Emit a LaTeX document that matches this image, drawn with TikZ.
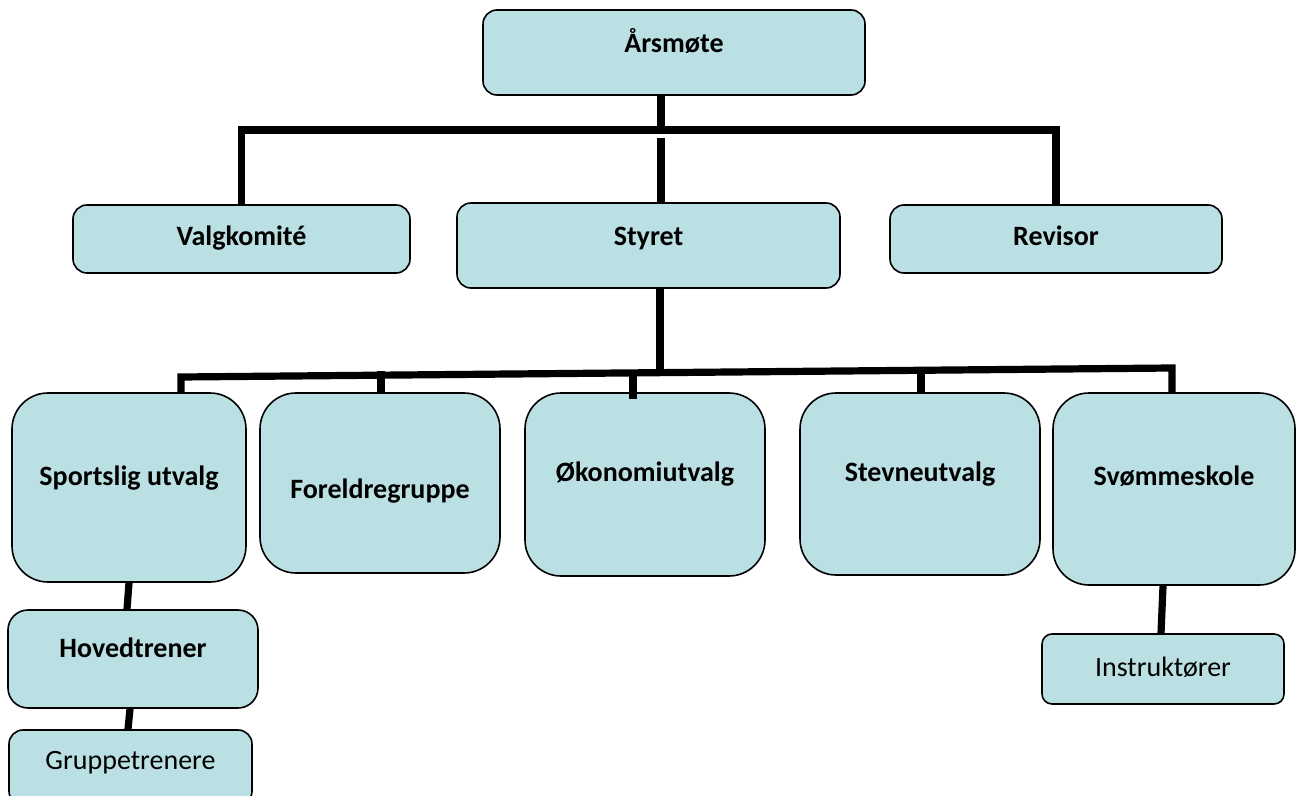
\documentclass[tikz,border=0pt]{standalone}
\usepackage{fontspec}
\setmainfont{Carlito}
\definecolor{boxfill}{RGB}{187,224,227}
\tikzset{
  orgbox/.style={draw=black, line width=0.8pt, fill=boxfill, rounded corners=7pt,
    inner sep=0pt, anchor=base, font=\fontsize{14}{17}\selectfont\bfseries},
  bigbox/.style={orgbox, rounded corners=18pt},
  thinbox/.style={orgbox, font=\fontsize{14}{17}\selectfont},
  conn/.style={line width=3.6pt}
}
\begin{document}
\begin{tikzpicture}[x=0.5pt,y=-0.5pt]
\useasboundingbox (0,0) rectangle (1304,796);
\node[orgbox, minimum width=191pt, text height=21.5pt, text depth=21pt] (arsmote) at (674,53) {Årsmøte};
\node[orgbox, minimum width=168.5pt, text height=20.5pt, text depth=13.5pt] (valg) at (241.5,246) {Valgkomité};
\node[orgbox, minimum width=191.5pt, text height=21.5pt, text depth=21pt] (styret) at (648.5,246) {Styret};
\node[orgbox, minimum width=166pt, text height=20.5pt, text depth=13.5pt] (revisor) at (1056,246) {Revisor};
\node[bigbox, minimum width=117pt, text height=46pt, text depth=48.5pt] (sport) at (129,485) {Sportslig utvalg};
\node[bigbox, minimum width=120pt, text height=52.5pt, text depth=37.5pt] (foreld) at (380,498) {Foreldregruppe};
\node[bigbox, minimum width=120pt, text height=44pt, text depth=47.5pt] (okon) at (645,481) {Økonomiutvalg};
\node[bigbox, minimum width=120pt, text height=44pt, text depth=47pt] (stevne) at (920,481) {Stevneutvalg};
\node[bigbox, minimum width=121pt, text height=46pt, text depth=50pt] (svom) at (1174,485) {Svømmeskole};
\node[orgbox, rounded corners=10pt, minimum width=125pt, text height=23.5pt, text depth=25.5pt] (hoved) at (133,657) {Hovedtrener};
\node[thinbox, minimum width=121.5pt, text height=19.5pt, text depth=18pt] (gruppe) at (130.5,769) {Gruppetrenere};
\node[thinbox, rounded corners=5pt, minimum width=121pt, text height=21pt, text depth=14pt] (instr) at (1163,676) {Instruktører};
% top level
\coordinate (hub1) at (661,130);
\coordinate (hub1b) at (661,138);
\draw[conn] (arsmote.south -| hub1) -- (hub1);
\draw[conn] (valg.north) |- (hub1) -| (revisor.north);
\draw[conn] (hub1b) -- (styret.north -| hub1b);
% committees
\coordinate (hub2) at (660,373);
\coordinate (hub2l) at (181,377);
\coordinate (hub2r) at (1172,368);
\draw[conn] (styret.south -| hub2) -- (hub2);
\draw[conn] (sport.north -| hub2l) -- (hub2l) -- (hub2r) -- (svom.north -| hub2r);
\coordinate (j2) at (381,371);
\coordinate (j3) at (633,371);
\coordinate (j4) at (921,370);
\draw[conn] (j2) -- (foreld.north -| j2);
\draw[conn, shorten >=-3.5pt] (j3) -- (okon.north -| j3);
\draw[conn] (j4) -- (stevne.north -| j4);
% coaches
\draw[conn] (sport.south) -- ([xshift=-3pt]hoved.north);
\draw[conn] ([xshift=-1.5pt]hoved.south) -- ([xshift=-1.25pt]gruppe.north);
\draw[conn] ([xshift=-5.5pt]svom.south) -- ([xshift=-1pt]instr.north);
\end{tikzpicture}
\end{document}
